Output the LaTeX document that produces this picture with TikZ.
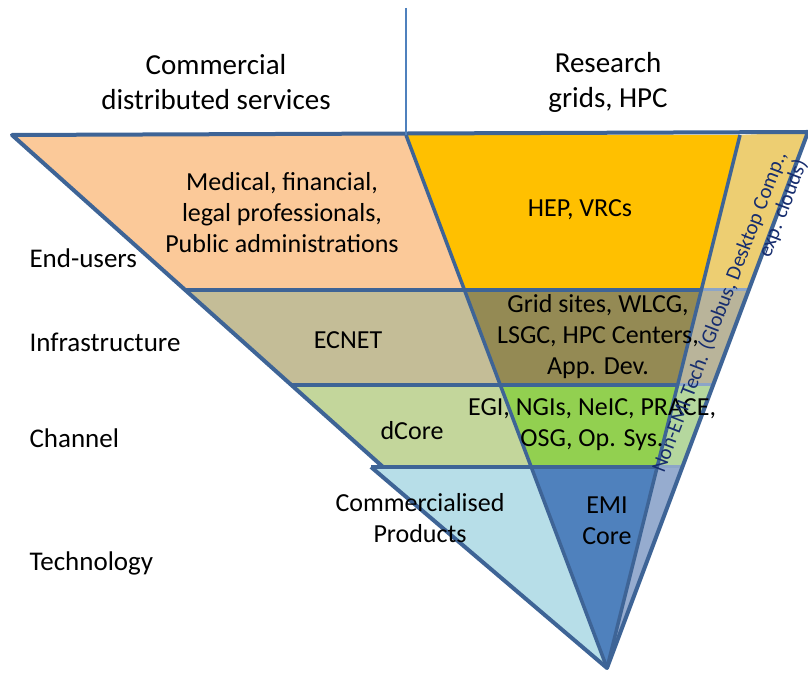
\documentclass[tikz,border=0pt]{standalone}
\usepackage{fontspec}
\setmainfont{Carlito}
\usetikzlibrary{calc}

\definecolor{edge}{RGB}{62,100,150}
\definecolor{stripedge}{RGB}{140,165,200}
\definecolor{peach}{RGB}{251,201,153}
\definecolor{gold}{RGB}{255,192,0}
\definecolor{tan}{RGB}{196,189,151}
\definecolor{olive}{RGB}{148,138,84}
\definecolor{sage}{RGB}{195,214,155}
\definecolor{lime}{RGB}{146,208,80}
\definecolor{sky}{RGB}{183,222,232}
\definecolor{steel}{RGB}{79,129,189}
\definecolor{stripA}{RGB}{237,206,114}
\definecolor{stripB}{RGB}{185,180,154}
\definecolor{stripC}{RGB}{181,215,158}
\definecolor{stripD}{RGB}{150,172,207}
\definecolor{navy}{RGB}{23,45,110}

\begin{document}
\begin{tikzpicture}[x=1pt, y=1pt, font=\fontsize{26}{31}\selectfont]

  \useasboundingbox (0,0) rectangle (808,677);

  % top corners and apex
  \coordinate (topL) at (12,542);
  \coordinate (topM) at (406,542);
  \coordinate (topR) at (740,542);
  \coordinate (topO) at (808,545);
  \coordinate (apex) at (607,9);

  % band boundaries
  \coordinate (L1) at (185,387);
  \coordinate (M1) at (464,387);
  \coordinate (R1) at (701,387);
  \coordinate (O1) at (749,387);

  \coordinate (L2) at (291,292);
  \coordinate (M2) at (500,292);
  \coordinate (R2) at (678,292);
  \coordinate (O2) at (713,292);

  \coordinate (L3) at (383,210);
  \coordinate (P3) at (371,210);
  \coordinate (M3) at (531,210);
  \coordinate (R3) at (657,210);
  \coordinate (O3) at (682,210);

  \fill[peach] (topL) -- (topM) -- (M1) -- (L1) -- cycle;
  \fill[gold] (topM) -- (topR) -- (R1) -- (M1) -- cycle;
  \fill[stripA] (topR) -- (topO) -- (O1) -- (R1) -- cycle;

  \fill[tan] (L1) -- (M1) -- (M2) -- (L2) -- cycle;
  \fill[olive] (M1) -- (R1) -- (R2) -- (M2) -- cycle;
  \fill[stripB] (R1) -- (O1) -- (O2) -- (R2) -- cycle;

  \fill[sage] (L2) -- (M2) -- (M3) -- (L3) -- cycle;
  \fill[lime] (M2) -- (R2) -- (R3) -- (M3) -- cycle;
  \fill[stripC] (R2) -- (O2) -- (O3) -- (R3) -- cycle;

  \fill[sky] (P3) -- (M3) -- (apex) -- cycle;
  \fill[steel] (M3) -- (R3) -- (apex) -- cycle;
  \fill[stripD] (R3) -- (O3) -- (apex) -- cycle;

  % lines across the strip
  \draw[stripedge, line width=3pt] (R1) -- (O1);
  \draw[stripedge, line width=3pt] (R2) -- (O2);
  \draw[stripedge, line width=3pt] (R3) -- (O3);

  \draw[edge, line width=3.5pt] (L1) -- (R1);
  \draw[edge, line width=3.5pt] (L2) -- (R2);
  \draw[edge, line width=3.5pt] (P3) -- (R3);

  \draw[edge, line width=3.5pt] (topM) -- (apex);
  \draw[edge, line width=3.5pt] (topR) -- (apex);
  \draw[edge, line width=4pt, line join=round] (L3) -- (topL) -- (topO) -- (apex) -- (P3);

  \coordinate (splitTop) at (406,669);
  \draw[steel, line width=1.5pt] (splitTop) -- (topM);

  % headings
  \node[align=center, font=\fontsize{29}{35}\selectfont] (commHead) at (216,595) {Commercial\\distributed services};
  \node[align=center, font=\fontsize{29}{35}\selectfont] (resHead) at (608,595) {Research\\grids, HPC};

  % layer names
  \node[anchor=west, font=\fontsize{27}{31}\selectfont] (endUsers) at (26,419) {End-users};
  \node[anchor=west, font=\fontsize{27}{31}\selectfont] (infra) at (26,335) {Infrastructure};
  \node[anchor=west, font=\fontsize{27}{31}\selectfont] (channel) at (26,239) {Channel};
  \node[anchor=west, font=\fontsize{27}{31}\selectfont] (tech) at (26,114) {Technology};

  % band texts
  \node[align=center] (medical) at (282,464) {Medical, financial,\\legal professionals,\\Public administrations};
  \node (hep) at (580,467) {HEP, VRCs};
  \node (ecnet) at (348,337) {ECNET};
  \node[align=center] (gridSites) at (598,340) {Grid sites, WLCG,\\LSGC, HPC Centers,\\App. Dev.};
  \node (dcore) at (412,246) {dCore};
  \node[align=center] (egi) at (592,252) {EGI, NGIs, NeIC, PRACE,\\OSG, Op. Sys.};
  \node[align=center] (commProd) at (420,159) {Commercialised\\Products};
  \node[align=center] (emiCore) at (607,156) {EMI\\Core};

  \node[align=right, rotate=69, text=navy, font=\fontsize{21}{22}\selectfont] (nonEmi) at (730,361)
    {Non-EMI Tech. (Globus, Desktop Comp.,\\exp. clouds)};

\end{tikzpicture}
\end{document}
